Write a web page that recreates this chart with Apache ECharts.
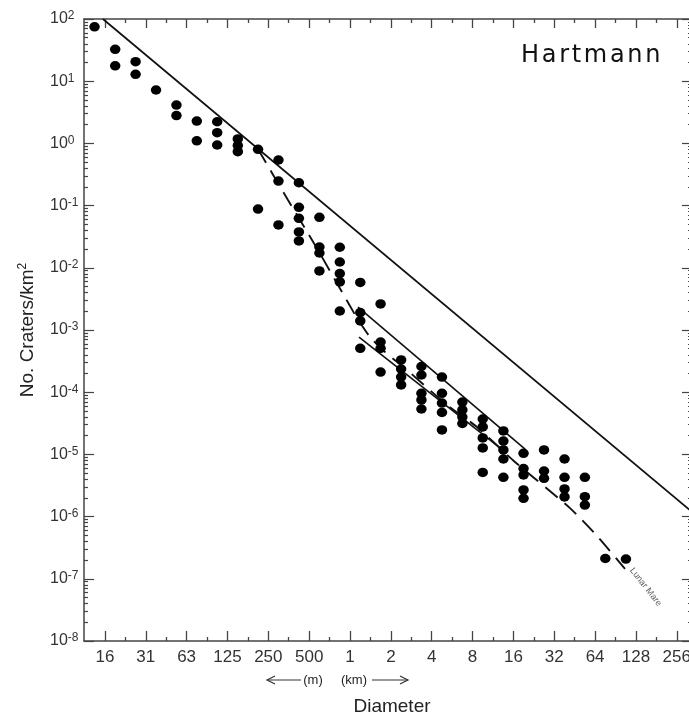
<!DOCTYPE html>
<html><head><meta charset="utf-8">
<script src="https://cdn.jsdelivr.net/npm/echarts@6/dist/echarts.min.js"></script>
<style>html,body{margin:0;padding:0;background:#fff}#c{width:689px;height:717px}</style>
</head><body><div id="c"></div>
<script>
// ---- tick labels ----
const xTickKm = [0.015625, 0.03125, 0.0625, 0.125, 0.25, 0.5, 1, 2, 4, 8, 16, 32, 64, 128, 256];
const xTickLabels = ['16', '31', '63', '125', '250', '500', '1', '2', '4', '8', '16', '32', '64', '128', '256'];
const yTickExp = [-8, -7, -6, -5, -4, -3, -2, -1, 0, 1, 2];

// ---- crater counts (diameter bins in km, densities in craters/km^2) ----
const craterDiam = [0.0131, 0.0186, 0.0263, 0.0372, 0.0526, 0.0743, 0.105, 0.149, 0.210, 0.297,
  0.420, 0.595, 0.841, 1.19, 1.68, 2.38, 3.36, 4.76, 6.73, 9.51, 13.5, 19.0, 26.9, 38.1, 53.8, 76.1, 108];
const craterDensity = [
  [75],
  [32.6, 17.7],
  [20.6, 12.9],
  [7.22],
  [4.14, 2.80],
  [2.29, 1.10],
  [2.23, 1.49, 0.942],
  [1.18, 0.925, 0.736],
  [0.804, 0.0881],
  [0.541, 0.248, 0.0488],
  [0.233, 0.0940, 0.0625, 0.0377, 0.0270],
  [0.0648, 0.0216, 0.0173, 0.00889],
  [0.0214, 0.0124, 0.00809, 0.00592, 0.00202],
  [0.00581, 0.00191, 0.00140, 0.000508],
  [0.00262, 0.000641, 0.000508, 0.000211],
  [3.30e-4, 2.36e-4, 1.75e-4, 1.31e-4],
  [2.59e-4, 1.89e-4, 9.60e-5, 7.50e-5, 5.37e-5],
  [1.75e-4, 9.60e-5, 6.70e-5, 4.72e-5, 2.47e-5],
  [6.95e-5, 5.18e-5, 3.99e-5, 3.14e-5],
  [3.71e-5, 2.76e-5, 1.84e-5, 1.27e-5, 5.12e-6],
  [2.38e-5, 1.64e-5, 1.18e-5, 8.43e-6, 4.28e-6],
  [1.04e-5, 5.93e-6, 4.67e-6, 2.68e-6, 1.97e-6],
  [1.18e-5, 5.41e-6, 4.13e-6],
  [8.43e-6, 4.28e-6, 2.78e-6, 2.07e-6],
  [4.28e-6, 2.09e-6, 1.53e-6],
  [2.12e-7],
  [2.08e-7]
];

// ---- reference lines ----
const satDiam = [0.0151, 331];
const satDensity = [100, 1.19e-6];
const lineADiam = [1.146, 19.5];
const lineADensity = [2.34e-3, 1.22e-5];
const lineBDiam = [1.165, 12.75];
const lineBDensity = [7.71e-4, 1.27e-5];
const mareDiam = [0.2096, 0.349, 0.552, 0.873, 1.126, 1.404, 1.811, 2.630, 5.187, 8.63, 16.44, 41.8, 67.2, 106.3];
const mareDensity = [0.813, 0.123, 0.0233, 0.00408, 0.00156, 7.71e-4, 4.43e-4, 2.28e-4, 6.22e-5, 2.76e-5, 7.55e-6, 1.37e-6, 4.70e-7, 1.44e-7];

// ---- build ----
const L2 = Math.log2, L10 = Math.log10;
const toPts = (ds, ns) => ds.map((d, i) => [L2(d), L10(ns[i])]);
const scatterData = [];
craterDiam.forEach((d, i) => craterDensity[i].forEach(n => scatterData.push([L2(d), L10(n)])));

const X_MIN = -6.512, X_MAX = 8.372, Y_MIN = -8, Y_MAX = 2;
const majorX = xTickKm.map(L2);
const minorX = majorX.slice(0, -1).map(v => v + 0.5);
const majorY = yTickExp.slice();
const minorY = [];
yTickExp.slice(0, -1).forEach(e => { for (let k = 2; k <= 9; k++) minorY.push(e + L10(k)); });

const AX = '#444';
const FONT = 'Liberation Sans, Arial, sans-serif';

function xAxisDef(pos, ticks, len, showLine, withLabels) {
  return {
    type: 'value', position: pos, min: X_MIN, max: X_MAX,
    axisLine: { show: showLine, onZero: false, lineStyle: { color: AX, width: 1.5 } },
    axisTick: { show: true, inside: true, length: len, customValues: ticks, lineStyle: { color: AX, width: 1.3 } },
    axisLabel: withLabels ? {
      show: true, customValues: majorX, margin: 8, fontSize: 17, fontFamily: FONT, color: '#333',
      formatter: v => { const i = majorX.findIndex(m => Math.abs(m - v) < 1e-6); return i >= 0 ? xTickLabels[i] : ''; }
    } : { show: false },
    splitLine: { show: false }
  };
}
function yAxisDef(pos, ticks, len, showLine, withLabels) {
  return {
    type: 'value', position: pos, min: Y_MIN, max: Y_MAX,
    axisLine: { show: showLine, onZero: false, lineStyle: { color: AX, width: 1.5 } },
    axisTick: { show: true, inside: true, length: len, customValues: ticks, lineStyle: { color: AX, width: 1.2 } },
    axisLabel: withLabels ? {
      show: true, customValues: majorY, margin: 34, align: 'left',
      formatter: v => '{b|10}{e|' + Math.round(v) + '}',
      rich: {
        b: { fontSize: 16, lineHeight: 18, fontFamily: FONT, color: '#333' },
        e: { fontSize: 12, lineHeight: 12, verticalAlign: 'top', fontFamily: FONT, color: '#333' }
      }
    } : { show: false },
    splitLine: { show: false }
  };
}

const titleRich = '{l|H}{l|a}{l|r}{l|t}{l|m}{l|a}{l|n}{n|n}';

const chart = echarts.init(document.getElementById('c'), null, { renderer: 'canvas' });
chart.setOption({
  animation: false,
  backgroundColor: '#fff',
  grid: { left: 84, top: 19, width: 608, height: 622, containLabel: false, outerBoundsMode: 'none' },
  xAxis: [
    xAxisDef('bottom', majorX, 10, true, true),
    xAxisDef('bottom', minorX, 4, false, false),
    xAxisDef('top', majorX, 9, true, false),
    xAxisDef('top', minorX, 4, false, false)
  ],
  yAxis: [
    yAxisDef('left', majorY, 10, true, true),
    yAxisDef('left', minorY, 4, false, false),
    yAxisDef('right', majorY, 10, true, false),
    yAxisDef('right', minorY, 4, false, false)
  ],
  series: [
    { type: 'line', data: toPts(satDiam, satDensity), showSymbol: false, symbol: 'none',
      lineStyle: { color: '#111', width: 1.7 }, z: 3 },
    { type: 'line', data: toPts(lineADiam, lineADensity), showSymbol: false, symbol: 'none',
      lineStyle: { color: '#111', width: 1.6 }, z: 3 },
    { type: 'line', data: toPts(lineBDiam, lineBDensity), showSymbol: false, symbol: 'none',
      lineStyle: { color: '#111', width: 1.6 }, z: 3 },
    { type: 'line', data: toPts(mareDiam, mareDensity), showSymbol: false, symbol: 'none', smooth: 0.2,
      lineStyle: { color: '#111', width: 1.9, type: [16, 9] }, z: 3 },
    { type: 'scatter', data: scatterData, symbol: 'circle', symbolSize: [10.5, 9.5],
      itemStyle: { color: '#000', opacity: 1 }, z: 4 },
    { type: 'scatter', data: [toPts(mareDiam, mareDensity)[mareDiam.length - 1]],
      symbolSize: 1, itemStyle: { color: 'rgba(0,0,0,0)' }, silent: true,
      label: { show: true, formatter: 'Lunar Mare', position: 'right', distance: 6, rotate: -52,
        fontSize: 9, fontFamily: FONT, color: '#333' } }
  ],
  graphic: [
    { type: 'text', left: 521, top: 44, style: { text: titleRich,
        rich: { l: { fontSize: 24, fontFamily: 'DejaVu Sans', fill: '#111', padding: [0, 2.7, 0, 0] },
                n: { fontSize: 24, fontFamily: 'DejaVu Sans', fill: '#111' } } } },
    { type: 'text', x: 28, y: 330, rotation: Math.PI / 2,
      style: { text: '{a|No. Craters/km}{s|2}', align: 'center', verticalAlign: 'middle',
        rich: { a: { fontSize: 19, lineHeight: 22, fontFamily: FONT, fill: '#222' },
                s: { fontSize: 12, lineHeight: 12, verticalAlign: 'top', fontFamily: FONT, fill: '#222' } } } },
    { type: 'text', x: 392, y: 707, style: { text: 'Diameter', fontSize: 19, fontFamily: FONT, fill: '#222', align: 'center', verticalAlign: 'middle' } },
    { type: 'text', x: 313, y: 680, style: { text: '(m)', fontSize: 13, fontFamily: FONT, fill: '#222', align: 'center', verticalAlign: 'middle' } },
    { type: 'text', x: 354, y: 680, style: { text: '(km)', fontSize: 13, fontFamily: FONT, fill: '#222', align: 'center', verticalAlign: 'middle' } },
    { type: 'line', shape: { x1: 267, y1: 680, x2: 301, y2: 680 }, style: { stroke: '#333', lineWidth: 1.2 } },
    { type: 'polyline', shape: { points: [[275, 676], [267, 680], [275, 684]] }, style: { stroke: '#333', lineWidth: 1.2, fill: null } },
    { type: 'line', shape: { x1: 372, y1: 680, x2: 408, y2: 680 }, style: { stroke: '#333', lineWidth: 1.2 } },
    { type: 'polyline', shape: { points: [[400, 676], [408, 680], [400, 684]] }, style: { stroke: '#333', lineWidth: 1.2, fill: null } }
  ]
});
</script>
</body></html>
